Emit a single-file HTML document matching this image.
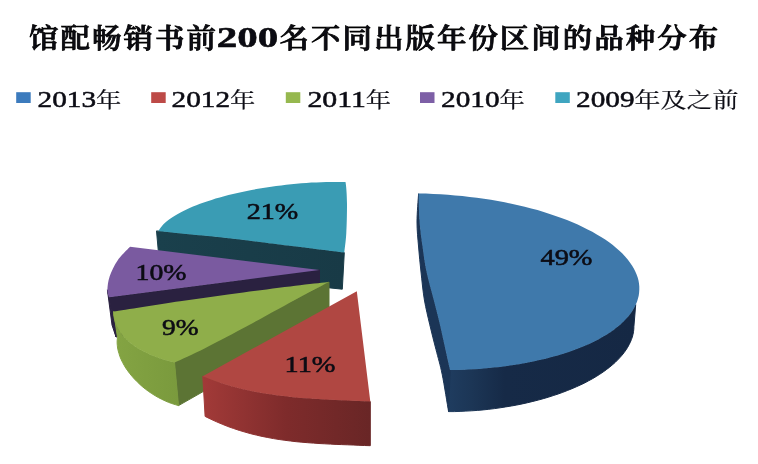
<!DOCTYPE html>
<html lang="zh-CN">
<head>
<meta charset="utf-8">
<title>馆配畅销书前200名不同出版年份区间的品种分布</title>
<style>
html,body{margin:0;padding:0;background:#fff;}
body{width:758px;height:464px;overflow:hidden;font-family:'Liberation Serif','Noto Serif CJK SC',serif;}
svg{display:block;}
svg text{font-family:'Liberation Serif','Noto Serif CJK SC',serif;fill:#0c0c14;}
svg text.lg{stroke:#0c0c14;stroke-width:0.5px;}
svg text.lc{stroke:#0c0c14;stroke-width:0.2px;}
</style>
</head>
<body>
<svg width="758" height="464" viewBox="0 0 758 464">
<defs>
<linearGradient id="gTealS" x1="0" y1="0" x2="1" y2="0"><stop offset="0" stop-color="#1a404c"/><stop offset="1" stop-color="#183a46"/></linearGradient>
<linearGradient id="gGrnS" x1="0" y1="0" x2="1" y2="0"><stop offset="0" stop-color="#84a443"/><stop offset="1" stop-color="#7a9a3d"/></linearGradient>
<linearGradient id="gRedS" x1="0" y1="0" x2="1" y2="0"><stop offset="0" stop-color="#a23a38"/><stop offset="0.5" stop-color="#7e2b2b"/><stop offset="1" stop-color="#692626"/></linearGradient>
<linearGradient id="gBlueS" x1="0" y1="0" x2="1" y2="0"><stop offset="0" stop-color="#1f3c5f"/><stop offset="0.12" stop-color="#1c3656"/><stop offset="0.3" stop-color="#162a47"/><stop offset="1" stop-color="#152844"/></linearGradient>
</defs>
<rect width="758" height="464" fill="#fff"/>
<g font-weight="600" font-size="27.8" stroke="#000" stroke-width="0.75" fill="#000" letter-spacing="1.92"><text transform="translate(29.0,47.5) scale(1.06,1)">馆配畅销书前</text><text transform="translate(279.5,47.5) scale(1.06,1)">名不同出版年份区间的品种分布</text></g><text x="216.8" y="46.8" font-weight="bold" font-size="28.8" textLength="61.5" lengthAdjust="spacingAndGlyphs" stroke="#000" stroke-width="0.5">200</text>
<rect x="16.2" y="92.2" width="14.5" height="10.8" fill="#3c7bbd"/>
<text class="lg" x="37.6" y="107.3" font-size="23.3" textLength="58.5" lengthAdjust="spacingAndGlyphs">2013</text>
<text class="lc" x="96.0" y="106.7" font-size="21" textLength="25.3" lengthAdjust="spacingAndGlyphs">年</text>
<rect x="151.2" y="92.2" width="14.5" height="10.8" fill="#bd4a47"/>
<text class="lg" x="171.6" y="107.3" font-size="23.3" textLength="58.5" lengthAdjust="spacingAndGlyphs">2012</text>
<text class="lc" x="230.0" y="106.7" font-size="21" textLength="25.3" lengthAdjust="spacingAndGlyphs">年</text>
<rect x="285.8" y="92.2" width="14.5" height="10.8" fill="#96b84f"/>
<text class="lg" x="307.4" y="107.3" font-size="23.3" textLength="58.5" lengthAdjust="spacingAndGlyphs">2011</text>
<text class="lc" x="365.8" y="106.7" font-size="21" textLength="25.3" lengthAdjust="spacingAndGlyphs">年</text>
<rect x="420.0" y="92.2" width="14.5" height="10.8" fill="#7d5fa6"/>
<text class="lg" x="441.0" y="107.3" font-size="23.3" textLength="58.5" lengthAdjust="spacingAndGlyphs">2010</text>
<text class="lc" x="499.4" y="106.7" font-size="21" textLength="25.3" lengthAdjust="spacingAndGlyphs">年</text>
<rect x="555.3" y="92.2" width="14.5" height="10.8" fill="#3fa5c0"/>
<text class="lg" x="576.1" y="107.3" font-size="23.3" textLength="58.5" lengthAdjust="spacingAndGlyphs">2009</text>
<text class="lc" x="634.5" y="106.7" font-size="21" textLength="103.9" lengthAdjust="spacingAndGlyphs">年及之前</text>
<g>
<path d="M156.5 230.9C164.2 231.7 186.3 233.8 202.8 235.6 C219.3 237.3 237.9 239.3 255.5 241.4 C273.1 243.5 293.5 246.1 308.3 248.0 C323.1 249.9 338.3 251.8 344.3 252.6L342.3 289.2 L160.0 270.0Z" fill="url(#gTealS)" stroke="url(#gTealS)" stroke-width="1" stroke-linejoin="round"/>
<path d="M158.7 230.8L158.7 230.8 L159.5 229.3 L160.6 227.7 L161.8 226.2 L163.2 224.6 L164.8 223.1 L166.5 221.5 L168.4 220.0 L170.5 218.4 L172.8 216.9 L175.2 215.4 L177.8 213.9 L180.5 212.4 L183.4 210.9 L186.5 209.4 L189.6 208.0 L193.0 206.6 L196.4 205.2 L200.0 203.8 L203.8 202.5 L207.6 201.2 L211.6 199.9 L215.6 198.6 L219.8 197.4 L224.1 196.2 L228.5 195.1 L233.0 194.0 L237.5 192.9 L242.1 191.9 L246.8 190.9 L251.6 190.0 L256.4 189.1 L261.3 188.2 L266.2 187.5 L271.2 186.7 L276.1 186.0 L281.2 185.4 L286.2 184.8 L291.2 184.2 L296.3 183.8 L301.3 183.3 L306.4 183.0 L311.4 182.6 L316.4 182.4 L321.3 182.2 L326.3 182.0 L331.2 181.9 L336.0 181.9 L340.8 181.9 L345.5 182.0C346.2 185.2 347.0 195.4 347.0 204.0 C347.0 212.6 346.8 224.9 346.3 233.0 C345.9 241.1 344.6 249.3 344.3 252.6C338.3 251.8 323.1 249.9 308.3 248.0 C293.5 246.1 273.1 243.5 255.5 241.4 C237.9 239.3 219.3 237.3 202.8 235.6 C186.3 233.8 164.2 231.7 156.5 230.9Z" fill="#3a9cb4"/>
<path d="M107.4 289.8L109.0 297.3 L116.0 337.0 L112.0 325.0Z" fill="#2a2140" stroke="#2a2140" stroke-width="1" stroke-linejoin="round"/>
<path d="M109.0 297.3L319.5 270.0 L319.5 306.0 L116.0 337.0Z" fill="#2a2140" stroke="#2a2140" stroke-width="1" stroke-linejoin="round"/>
<path d="M130.0 246.8C127.9 249.1 121.0 255.5 117.6 260.4 C114.2 265.3 111.4 271.3 109.7 276.2 C108.0 281.1 107.5 286.3 107.4 289.8 C107.3 293.3 108.7 296.1 109.0 297.3L319.5 270.0Z" fill="#7a5aa0"/>
<path d="M174.5 362.6L329.0 282.0 L329.0 320.0 L178.5 405.6Z" fill="#5c7434" stroke="#5c7434" stroke-width="1" stroke-linejoin="round"/>
<path d="M113.6 311.5L113.6 311.5 L113.7 313.9 L113.9 316.2 L114.3 318.5 L114.9 320.8 L115.6 323.0 L116.4 325.3 L117.4 327.4 L118.6 329.6 L119.9 331.7 L121.4 333.7 L123.0 335.7 L124.7 337.7 L126.6 339.6 L128.6 341.5 L130.8 343.3 L133.1 345.1 L135.5 346.8 L138.1 348.4 L140.8 350.0 L143.7 351.6 L146.6 353.1 L149.7 354.5 L152.9 355.8 L156.2 357.1 L159.6 358.3 L163.2 359.5 L166.8 360.6 L170.6 361.6 L174.5 362.6L178.5 405.6 L175.2 404.6 L171.8 403.5 L168.4 402.3 L165.0 400.8 L161.6 399.2 L158.3 397.5 L155.0 395.6 L151.8 393.6 L148.7 391.5 L145.6 389.2 L142.7 386.9 L139.9 384.4 L137.2 381.8 L134.6 379.2 L132.2 376.5 L129.9 373.7 L127.8 370.9 L125.8 368.1 L124.1 365.2 L122.5 362.3 L121.1 359.4 L119.9 356.5 L119.0 353.6 L118.2 350.8 L117.6 348.0 L117.3 345.3 L117.1 342.6 L117.2 340.0 L117.5 337.4Z" fill="url(#gGrnS)" stroke="url(#gGrnS)" stroke-width="1" stroke-linejoin="round"/>
<path d="M113.6 311.5L113.6 311.5 L113.7 313.9 L113.9 316.2 L114.3 318.5 L114.9 320.8 L115.6 323.0 L116.4 325.3 L117.4 327.4 L118.6 329.6 L119.9 331.7 L121.4 333.7 L123.0 335.7 L124.7 337.7 L126.6 339.6 L128.6 341.5 L130.8 343.3 L133.1 345.1 L135.5 346.8 L138.1 348.4 L140.8 350.0 L143.7 351.6 L146.6 353.1 L149.7 354.5 L152.9 355.8 L156.2 357.1 L159.6 358.3 L163.2 359.5 L166.8 360.6 L170.6 361.6 L174.5 362.6C179.5 360.2 193.6 353.9 205.0 348.2 C216.4 342.5 227.2 336.8 243.0 328.3 C258.8 319.8 285.7 304.9 300.0 297.2 C314.3 289.5 324.2 284.5 329.0 282.0C324.2 282.5 314.3 283.5 300.0 285.2 C285.7 286.9 263.3 289.7 243.3 292.4 C223.3 295.1 201.6 298.0 180.0 301.2 C158.4 304.4 124.6 309.8 113.6 311.5Z" fill="#8fae4a"/>
<path d="M202.8 376.2L202.8 376.2 L208.5 378.5 L214.3 380.7 L220.1 382.7 L225.9 384.5 L231.6 386.2 L237.4 387.7 L243.2 389.2 L249.0 390.5 L254.7 391.7 L260.5 392.8 L266.3 393.7 L272.1 394.6 L277.9 395.4 L283.6 396.1 L289.4 396.8 L295.2 397.4 L301.0 397.9 L306.7 398.3 L312.5 398.7 L318.3 399.1 L324.1 399.4 L329.9 399.7 L335.6 400.0 L341.4 400.3 L347.2 400.5 L353.0 400.8 L358.7 401.0 L364.5 401.3 L370.3 401.6L370.3 445.7 L364.6 445.5 L358.9 445.3 L353.2 445.0 L347.5 444.8 L341.8 444.6 L336.1 444.4 L330.4 444.1 L324.7 443.8 L319.0 443.5 L313.3 443.1 L307.6 442.7 L301.9 442.2 L296.2 441.7 L290.5 441.0 L284.9 440.3 L279.2 439.5 L273.5 438.6 L267.8 437.5 L262.1 436.4 L256.4 435.1 L250.7 433.7 L245.0 432.1 L239.3 430.4 L233.6 428.5 L227.9 426.5 L222.2 424.2 L216.5 421.8 L210.8 419.2 L205.1 416.4Z" fill="url(#gRedS)" stroke="url(#gRedS)" stroke-width="1" stroke-linejoin="round"/>
<path d="M202.8 376.2L202.8 376.2 L208.5 378.5 L214.3 380.7 L220.1 382.7 L225.9 384.5 L231.6 386.2 L237.4 387.7 L243.2 389.2 L249.0 390.5 L254.7 391.7 L260.5 392.8 L266.3 393.7 L272.1 394.6 L277.9 395.4 L283.6 396.1 L289.4 396.8 L295.2 397.4 L301.0 397.9 L306.7 398.3 L312.5 398.7 L318.3 399.1 L324.1 399.4 L329.9 399.7 L335.6 400.0 L341.4 400.3 L347.2 400.5 L353.0 400.8 L358.7 401.0 L364.5 401.3 L370.3 401.6L356.8 291.3Z" fill="#b04742"/>
<path d="M635.7 304.7L635.7 304.7 L634.3 307.6 L632.6 310.5 L630.6 313.4 L628.4 316.2 L626.0 319.0 L623.3 321.7 L620.4 324.4 L617.2 327.1 L613.9 329.7 L610.3 332.2 L606.4 334.7 L602.4 337.1 L598.2 339.4 L593.8 341.7 L589.1 343.9 L584.3 346.0 L579.3 348.1 L574.1 350.1 L568.7 352.0 L563.2 353.8 L557.5 355.5 L551.6 357.1 L545.6 358.7 L539.4 360.1 L533.1 361.5 L526.7 362.8 L520.2 363.9 L513.6 365.0 L506.8 366.0 L500.0 366.9 L493.1 367.6 L486.1 368.3 L479.0 368.9 L471.8 369.3 L464.7 369.7 L457.4 370.0 L450.1 370.1L448.6 411.6 L454.3 411.6 L460.1 411.4 L465.9 411.1 L471.6 410.8 L477.4 410.4 L483.1 409.9 L488.8 409.3 L494.5 408.6 L500.1 407.8 L505.7 406.9 L511.3 406.0 L516.8 405.0 L522.2 403.9 L527.6 402.7 L532.9 401.4 L538.1 400.1 L543.2 398.7 L548.3 397.2 L553.2 395.6 L558.1 394.0 L562.8 392.3 L567.4 390.5 L571.9 388.7 L576.3 386.8 L580.5 384.9 L584.7 382.9 L588.6 380.8 L592.5 378.7 L596.2 376.5 L599.7 374.3 L603.1 372.0 L606.3 369.7 L609.3 367.4 L612.2 365.0 L615.0 362.6 L617.5 360.1 L619.9 357.6 L622.1 355.1 L624.1 352.6 L625.9 350.0 L627.6 347.4 L629.0 344.8 L630.3 342.2 L631.4 339.6 L632.3 337.0 L633.0 334.4 L633.5 331.7 L633.8 329.1 L633.9 326.5Z" fill="url(#gBlueS)" stroke="url(#gBlueS)" stroke-width="1" stroke-linejoin="round"/>
<path d="M418.6 193.7C418.3 198.4 417.0 213.1 417.0 222.0 C417.0 230.9 417.9 238.7 418.6 247.0 C419.3 255.3 420.0 263.2 421.0 272.0 C422.0 280.8 422.9 291.2 424.4 300.0 C425.9 308.8 427.9 316.5 429.8 324.8 C431.7 333.1 433.9 341.3 436.0 349.6 C438.1 357.9 440.1 364.1 442.2 374.4 C444.3 384.7 447.5 405.4 448.6 411.6L450.2 370.7C449.4 367.2 447.1 357.1 445.5 349.6 C443.9 342.2 442.2 334.3 440.3 326.0 C438.4 317.7 436.1 309.0 433.8 300.0 C431.5 291.0 428.5 280.8 426.6 272.0 C424.7 263.2 423.8 255.3 422.6 247.0 C421.4 238.7 420.3 230.9 419.6 222.0 C418.9 213.1 418.8 198.4 418.6 193.7Z" fill="#1b3556" stroke="#1b3556" stroke-width="1" stroke-linejoin="round"/>
<path d="M418.6 193.5L418.6 193.5 L425.9 193.6 L433.2 193.9 L440.6 194.3 L447.9 194.8 L455.1 195.4 L462.4 196.1 L469.6 196.9 L476.8 197.7 L483.9 198.7 L490.9 199.8 L497.8 201.0 L504.7 202.3 L511.5 203.7 L518.1 205.2 L524.7 206.7 L531.2 208.4 L537.5 210.1 L543.7 212.0 L549.7 213.9 L555.6 215.9 L561.4 217.9 L567.0 220.1 L572.4 222.3 L577.7 224.6 L582.7 226.9 L587.6 229.4 L592.3 231.8 L596.8 234.4 L601.1 237.0 L605.2 239.6 L609.1 242.3 L612.8 245.1 L616.2 247.9 L619.4 250.7 L622.4 253.6 L625.1 256.5 L627.7 259.4 L629.9 262.4 L632.0 265.4 L633.8 268.4 L635.3 271.4 L636.6 274.5 L637.7 277.5 L638.5 280.5 L639.0 283.6 L639.3 286.6 L639.3 289.7 L639.1 292.7 L638.7 295.7 L637.9 298.7 L637.0 301.7 L635.7 304.7 L634.3 307.6 L632.6 310.5 L630.6 313.4 L628.4 316.2 L626.0 319.0 L623.3 321.7 L620.4 324.4 L617.2 327.1 L613.9 329.7 L610.3 332.2 L606.4 334.7 L602.4 337.1 L598.2 339.4 L593.8 341.7 L589.1 343.9 L584.3 346.0 L579.3 348.1 L574.1 350.1 L568.7 352.0 L563.2 353.8 L557.5 355.5 L551.6 357.1 L545.6 358.7 L539.4 360.1 L533.1 361.5 L526.7 362.8 L520.2 363.9 L513.6 365.0 L506.8 366.0 L500.0 366.9 L493.1 367.6 L486.1 368.3 L479.0 368.9 L471.8 369.3 L464.7 369.7 L457.4 370.0 L450.1 370.1C449.4 367.2 447.1 357.1 445.5 349.6 C443.9 342.2 442.2 334.3 440.3 326.0 C438.4 317.7 436.1 309.0 433.8 300.0 C431.5 291.0 428.5 280.8 426.6 272.0 C424.7 263.2 423.8 255.3 422.6 247.0 C421.4 238.7 420.3 230.9 419.6 222.0 C418.9 213.1 418.8 198.4 418.6 193.7Z" fill="#3f79ab"/>
</g>
<g stroke="#0c0c14" stroke-width="0.55">
<text x="540.5" y="264.8" font-size="23.2" textLength="52.0" lengthAdjust="spacingAndGlyphs">49%</text>
<text x="246.7" y="219.3" font-size="23.2" textLength="51.6" lengthAdjust="spacingAndGlyphs">21%</text>
<text x="135.5" y="279.8" font-size="23.2" textLength="51.0" lengthAdjust="spacingAndGlyphs">10%</text>
<text x="162.0" y="335.3" font-size="23.2" textLength="36.5" lengthAdjust="spacingAndGlyphs">9%</text>
<text x="284.5" y="372.0" font-size="23.2" textLength="51.0" lengthAdjust="spacingAndGlyphs">11%</text>
</g>
</svg>
</body>
</html>
